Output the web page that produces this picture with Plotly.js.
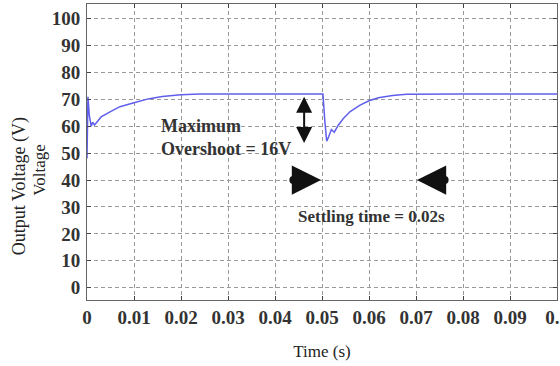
<!DOCTYPE html>
<html>
<head>
<meta charset="utf-8">
<script src="https://cdn.plot.ly/plotly-3.0.1.min.js"></script>
<style>
html,body{margin:0;padding:0;background:#fff;}
#chart{width:560px;height:366px;}
#chart .xtick text, #chart .ytick text {font-family: 'Liberation Serif', 'Times New Roman', serif !important; font-weight: bold !important;}
</style>
</head>
<body>
<div id="chart"></div>
<script>
// Time (s)
const timeValues = [0, 0.0002, 0.0005, 0.0009, 0.0012, 0.0016, 0.002, 0.003, 0.005, 0.007, 0.010, 0.013, 0.016, 0.020, 0.024, 0.030, 0.040, 0.0502,
  0.0506, 0.0510, 0.0514, 0.0520, 0.0526, 0.0535, 0.0545, 0.056, 0.058, 0.060, 0.062, 0.065, 0.068, 0.072, 0.080, 0.090, 0.100];
// Output voltage (V)
const voltageValues = [48, 71, 64, 60, 61.5, 60.5, 61.3, 63.5, 65.5, 67.3, 68.8, 70.2, 71.1, 71.7, 72, 72, 72, 72,
  62, 54.5, 56, 58.8, 57.8, 60.5, 62.8, 65.5, 67.8, 69.5, 70.6, 71.5, 71.9, 72, 72, 72, 72];

const xTickVals = [0, 0.01, 0.02, 0.03, 0.04, 0.05, 0.06, 0.07, 0.08, 0.09, 0.1];
const xTickText = ["0", "0.01", "0.02", "0.03", "0.04", "0.05", "0.06", "0.07", "0.08", "0.09", "0.1"];
const yTickVals = [0, 10, 20, 30, 40, 50, 60, 70, 80, 90, 100];
const yTickText = ["0", "10", "20", "30", "40", "50", "60", "70", "80", "90", "100"];

const overshootText = "Maximum<br>Overshoot = 16V";
const settlingText = "Settling time = 0.02s";
const xTitle = "Time (s)";
const yTitleLine1 = "Output Voltage (V)";
const yTitleLine2 = "Voltage";

const serif = "Liberation Serif";

const trace = {
  x: timeValues, y: voltageValues, type: 'scatter', mode: 'lines',
  line: {color: 'rgb(95,95,235)', width: 1.5}, hoverinfo: 'skip'
};

function axisBase() {
  return {
    showline: true, linecolor: '#666', linewidth: 1, mirror: 'ticks',
    ticks: 'inside', ticklen: 4, tickcolor: '#444',
    showgrid: true, gridcolor: '#9a9a9a', gridwidth: 1, griddash: '4px,3px',
    zeroline: false, ticklabeloverflow: 'allow',
    tickfont: {family: serif, size: 19, color: '#333', weight: 'bold'}
  };
}

const layout = {
  width: 560, height: 366,
  margin: {l: 87, r: 3, t: 4, b: 66},
  font: {family: serif, color: '#222'},
  paper_bgcolor: '#fff', plot_bgcolor: '#fff',
  showlegend: false,
  xaxis: Object.assign(axisBase(), {
    range: [0, 0.1], tickmode: 'array', tickvals: xTickVals, ticktext: xTickText,
    title: {text: xTitle, font: {family: serif, size: 17, color: '#222'}, standoff: 18}
  }),
  yaxis: Object.assign(axisBase(), {
    range: [-4.6, 105.5], tickmode: 'array', tickvals: yTickVals, ticktext: yTickText,
    ticklabelstandoff: 2
  }),
  annotations: [
    {xref: 'paper', yref: 'paper', x: -0.144, y: 0.385, xanchor: 'center', yanchor: 'middle',
     text: yTitleLine1, textangle: -90, showarrow: false,
     font: {family: serif, size: 18, color: '#222'}},
    {xref: 'paper', yref: 'paper', x: -0.1, y: 0.44, xanchor: 'center', yanchor: 'middle',
     text: yTitleLine2, textangle: -90, showarrow: false,
     font: {family: serif, size: 17, color: '#222'}},
    {x: 0.0153, y: 56, xanchor: 'left', yanchor: 'middle', align: 'left', text: overshootText,
     showarrow: false, font: {family: serif, size: 18, color: '#333', weight: 'bold'}},
    {x: 0.0605, y: 26.3, xanchor: 'center', yanchor: 'middle', text: settlingText,
     showarrow: false, font: {family: serif, size: 17, color: '#333', weight: 'bold'}},
    // vertical double arrow
    {x: 0.0462, y: 53.8, ax: 0.0462, ay: 71.6, axref: 'x', ayref: 'y', text: '',
     showarrow: true, arrowhead: 2, startarrowhead: 2, arrowside: 'end+start',
     arrowsize: 1.6, startarrowsize: 1.6, arrowwidth: 2, arrowcolor: '#111'},
    // right-pointing settling arrow
    {x: 0.0498, y: 40, ax: 0.0436, ay: 40, axref: 'x', ayref: 'y', text: '',
     showarrow: true, arrowhead: 2, startarrowhead: 6, arrowside: 'end+start',
     arrowsize: 1.3, startarrowsize: 0.45, arrowwidth: 4.5, arrowcolor: '#111'},
    // left-pointing settling arrow
    {x: 0.0702, y: 40, ax: 0.0764, ay: 40, axref: 'x', ayref: 'y', text: '',
     showarrow: true, arrowhead: 2, startarrowhead: 6, arrowside: 'end+start',
     arrowsize: 1.3, startarrowsize: 0.45, arrowwidth: 4.5, arrowcolor: '#111'}
  ]
};

Plotly.newPlot('chart', [trace], layout, {staticPlot: true, displayModeBar: false});
</script>
</body>
</html>
